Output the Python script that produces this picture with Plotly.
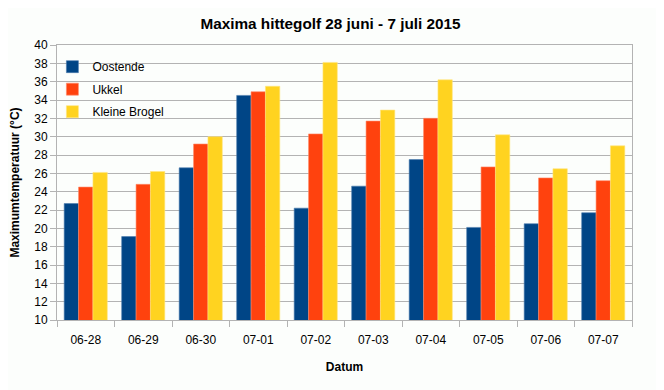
import plotly.graph_objects as go

dates = ["06-28", "06-29", "06-30", "07-01", "07-02", "07-03", "07-04", "07-05", "07-06", "07-07"]
oostende = [22.7, 19.1, 26.6, 34.5, 22.2, 24.6, 27.5, 20.1, 20.5, 21.7]
ukkel = [24.5, 24.8, 29.2, 34.9, 30.3, 31.7, 32.0, 26.7, 25.5, 25.2]
kleine_brogel = [26.1, 26.2, 30.0, 35.5, 38.1, 32.9, 36.2, 30.2, 26.5, 29.0]
y_ticks = list(range(10, 41, 2))

series = [
    ("Oostende", oostende, "#004586", "#4a7aad"),
    ("Ukkel", ukkel, "#ff420e", "#ff8a6a"),
    ("Kleine Brogel", kleine_brogel, "#ffd320", "#ffe680"),
]

fig = go.Figure()
for name, vals, col, edge in series:
    fig.add_trace(go.Bar(
        x=dates, y=vals, name=name, legendgroup=name,
        marker=dict(color=col, line=dict(color=edge, width=0.6)),
    ))

font_family = "Liberation Sans, Arial, sans-serif"
# the page body adds an 8px offset, so the figure is 8px smaller and margins shifted
fig.update_layout(
    width=656, height=382,
    margin=dict(l=49, r=32, t=37, b=70, autoexpand=False),
    paper_bgcolor="#fcfefc", plot_bgcolor="#fcfefc",
    barmode="group", bargap=0.25, bargroupgap=0,
    font=dict(family=font_family, size=12, color="#000000"),
    title=dict(text="<b>Maxima hittegolf 28 juni - 7 juli 2015</b>",
               x=0.4916, xanchor="center", y=0.96, yanchor="middle",
               font=dict(size=15.3, color="#000000")),
    legend=dict(x=-0.008, y=0.974, xanchor="left", yanchor="top",
                itemwidth=30,
                bgcolor="rgba(0,0,0,0)", traceorder="grouped", tracegroupgap=3.5,
                font=dict(size=12, color="#000000")),
    xaxis=dict(
        type="category", automargin=False,
        title=dict(text="<b>Datum</b>", font=dict(size=12), standoff=16),
        showline=True, linecolor="#b3b3b3", linewidth=1, mirror=True,
        ticks="outside", tickson="boundaries", ticklen=6, tickcolor="#b3b3b3",
        ticklabelstandoff=9,
        showgrid=False, tickfont=dict(size=12),
    ),
    yaxis=dict(
        automargin=False,
        title=dict(text="<b>Maximumtemperatuur (°C)</b>", font=dict(size=12), standoff=14),
        range=[10, 40], tickvals=y_ticks,
        showline=True, linecolor="#b3b3b3", linewidth=1, mirror=True,
        ticks="outside", ticklen=6, tickcolor="#b3b3b3",
        showgrid=True, gridcolor="#b3b3b3", gridwidth=1,
        tickfont=dict(size=12), zeroline=False,
    ),
)

fig.write_html("out.html")
